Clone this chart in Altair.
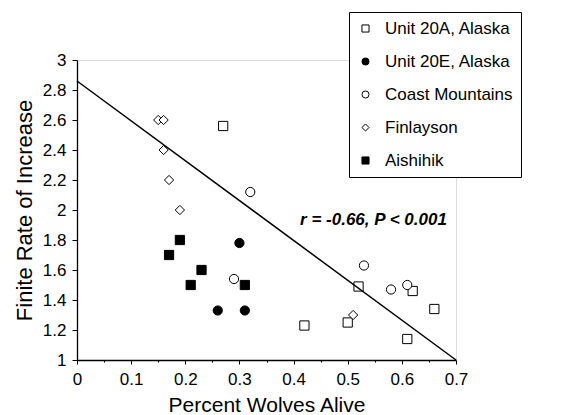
import altair as alt
import pandas as pd

# ---- data ----
sites = ["Unit 20A, Alaska", "Unit 20E, Alaska", "Coast Mountains", "Finlayson", "Aishihik"]
site_shapes = ["square", "circle", "circle", "diamond", "square"]
site_fills = ["white", "black", "white", "white", "black"]
site_strokes = ["black", "black", "black", "black", "black"]

unit20a_x = [0.27, 0.42, 0.50, 0.52, 0.62, 0.61, 0.66]
unit20a_y = [2.56, 1.23, 1.25, 1.49, 1.46, 1.14, 1.34]
unit20e_x = [0.30, 0.26, 0.31]
unit20e_y = [1.78, 1.33, 1.33]
coast_x = [0.32, 0.29, 0.53, 0.58, 0.61]
coast_y = [2.12, 1.54, 1.63, 1.47, 1.50]
finlayson_x = [0.15, 0.16, 0.16, 0.17, 0.19, 0.51]
finlayson_y = [2.60, 2.60, 2.40, 2.20, 2.00, 1.30]
aishihik_x = [0.19, 0.17, 0.23, 0.21, 0.31]
aishihik_y = [1.80, 1.70, 1.60, 1.50, 1.50]

fit_x = [0.0, 0.7]
fit_y = [2.86, 1.0]

annotation = ["r = -0.66, P < 0.001"]
annotation_x = [0.412]
annotation_y = [1.90]

x_major = [0.0, 0.1, 0.2, 0.3, 0.4, 0.5, 0.6, 0.7]
x_minor = [0.05, 0.15, 0.25, 0.35, 0.45, 0.55, 0.65]
y_ticks = [1.0, 1.2, 1.4, 1.6, 1.8, 2.0, 2.2, 2.4, 2.6, 2.8, 3.0]

# ---- tables ----
rows = []
for name, xs, ys in [
    (sites[0], unit20a_x, unit20a_y),
    (sites[1], unit20e_x, unit20e_y),
    (sites[2], coast_x, coast_y),
    (sites[3], finlayson_x, finlayson_y),
    (sites[4], aishihik_x, aishihik_y),
]:
    for a, b in zip(xs, ys):
        rows.append({"site": name, "x": a, "y": b})
points_df = pd.DataFrame(rows)
fit_df = pd.DataFrame({"x": fit_x, "y": fit_y})
ann_df = pd.DataFrame({"x": annotation_x, "y": annotation_y, "text": annotation})

FONT = "Liberation Sans"

x_scale = alt.Scale(domain=[0, 0.7], nice=False, zero=False)
y_scale = alt.Scale(domain=[1, 3], nice=False, zero=False)

pad_spaces = "\u00a0" * 16

legend = alt.Legend(
    title=None,
    orient="none",
    legendX=272,
    legendY=-48,
    strokeColor="black",
    fillColor="white",
    padding=8,
    rowPadding=15,
    labelFontSize=17,
    labelFont=FONT,
    labelColor="black",
    labelOffset=11,
    labelLimit=400,
    symbolSize=50,
    symbolStrokeColor="black",
    symbolStrokeWidth=1,
    labelExpr="datum.label + '" + pad_spaces + "'",
)

x_axis = alt.Axis(
    values=x_major,
    format=".1~f",
    orient="bottom",
    title="Percent Wolves Alive",
    titleFontSize=21,
    titleFontWeight="normal",
    titlePadding=7,
    labelFontSize=17,
    labelPadding=7,
    labelOverlap=False,
    labelFlush=False,
    tickSize=4,
    tickColor="black",
    domain=True,
    domainColor="black",
    domainWidth=1.3,
    grid=False,
    zindex=1,
)
y_axis = alt.Axis(
    values=y_ticks,
    tickCount=11,
    format=".1~f",
    orient="left",
    title="Finite Rate of Increase",
    titleFontSize=22,
    titleFontWeight="normal",
    titlePadding=6,
    labelFontSize=17,
    labelPadding=6,
    labelOverlap=False,
    labelFlush=False,
    tickSize=5,
    tickColor="black",
    domain=True,
    domainColor="black",
    domainWidth=1.3,
    grid=False,
    zindex=1,
)

minor_axis = alt.Axis(
    values=x_minor,
    labels=False,
    domain=False,
    tickSize=2,
    tickColor="black",
    title=None,
    orient="bottom",
    grid=False,
    zindex=1,
)

pts = alt.Chart(points_df).mark_point(
    filled=False, opacity=1, strokeWidth=1, size=85
).encode(
    x=alt.X("x:Q", scale=x_scale, axis=x_axis),
    y=alt.Y("y:Q", scale=y_scale, axis=y_axis),
    shape=alt.Shape("site:N", scale=alt.Scale(domain=sites, range=site_shapes), legend=legend, sort=sites),
    fill=alt.Fill("site:N", scale=alt.Scale(domain=sites, range=site_fills), legend=legend, sort=sites),
    stroke=alt.Stroke("site:N", scale=alt.Scale(domain=sites, range=site_strokes), legend=legend, sort=sites),
)

fit = alt.Chart(fit_df).mark_line(color="black", strokeWidth=1.5).encode(
    x=alt.X("x:Q", scale=x_scale, axis=minor_axis),
    y=alt.Y("y:Q", scale=y_scale, axis=y_axis),
)

ann = alt.Chart(ann_df).mark_text(
    align="left", baseline="alphabetic", fontSize=17, fontWeight="bold",
    fontStyle="italic", font=FONT, color="black"
).encode(
    x=alt.X("x:Q", scale=x_scale, axis=None),
    y=alt.Y("y:Q", scale=y_scale, axis=y_axis),
    text="text:N",
)

chart = alt.layer(pts, fit, ann).resolve_axis(x="independent").properties(
    width=379,
    height=300,
    autosize=alt.AutoSizeParams(type="none"),
    padding={"left": 69, "top": 52, "right": 106, "bottom": 55},
).configure_view(stroke=None).configure_axis(
    labelColor="black",
    titleColor="black",
    labelFont=FONT,
    titleFont=FONT,
    tickWidth=1,
).configure(background="white")

chart.save("out.html", embed_options={"renderer": "svg", "actions": False})
